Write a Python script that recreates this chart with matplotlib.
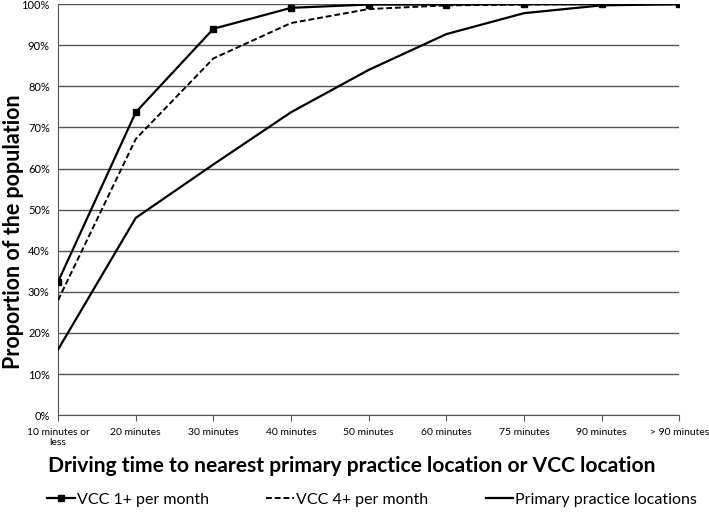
import numpy as np
import matplotlib.pyplot as plt
from matplotlib.ticker import PercentFormatter

categories = ['10 minutes or\nless', '20 minutes', '30 minutes', '40 minutes', '50 minutes',
              '60 minutes', '75 minutes', '90 minutes', '> 90 minutes']
vcc1 = [32.5, 73.7, 94.0, 99.1, 99.9, 99.9, 100.0, 100.0, 100.0]
vcc4 = [28.0, 67.2, 86.8, 95.4, 98.8, 99.7, 99.9, 100.0, 100.0]
primary = [16.0, 48.0, 61.0, 73.7, 84.0, 92.7, 97.8, 99.7, 100.0]

plt.rcParams['font.family'] = ['Lato', 'DejaVu Sans']

fig = plt.figure(figsize=(7.09, 5.17), dpi=100)
ax = fig.add_axes([0.082, 0.197, 0.876, 0.795])

x = np.arange(len(categories))
ax.plot(x, vcc1, color='black', lw=1.6, marker='s', ms=5, label='VCC 1+ per month', zorder=4)
ax.plot(x, vcc4, color='black', lw=1.4, ls=(0, (3, 1.5)), label='VCC 4+ per month', zorder=3)
ax.plot(x, primary, color='black', lw=1.6, label='Primary practice locations', zorder=3)

ax.set_xlim(0, len(categories) - 1)
ax.set_ylim(0, 100)
ax.set_yticks(np.arange(0, 101, 10))
ax.yaxis.set_major_formatter(PercentFormatter(decimals=0))
ax.set_xticks(x)
ax.set_xticklabels(categories, fontsize=7.5)
ax.tick_params(axis='y', length=0, labelsize=8, pad=6)
ax.tick_params(axis='x', direction='out', length=4, color='#555555', pad=5)
ax.grid(axis='y', color='#555555', lw=1)
ax.set_axisbelow(True)
for s in ['top', 'right']:
    ax.spines[s].set_visible(False)
ax.spines['left'].set_color('#555555')
ax.spines['bottom'].set_color('#555555')

fig.text(0.019, 1 - 232 / 517, 'Proportion of the population', fontsize=15.5,
         fontweight='bold', rotation=90, ha='center', va='center')
fig.text(0.496, 1 - 466 / 517,
         'Driving time to nearest primary practice location or VCC location',
         fontsize=15.1, fontweight='bold', ha='center', va='center')

fig.legend(loc='center', bbox_to_anchor=(0.525, 0.033), ncol=3, frameon=False,
           fontsize=11.5, handlelength=1.7, handletextpad=0.15, columnspacing=3.6)

fig.savefig('out.png')
